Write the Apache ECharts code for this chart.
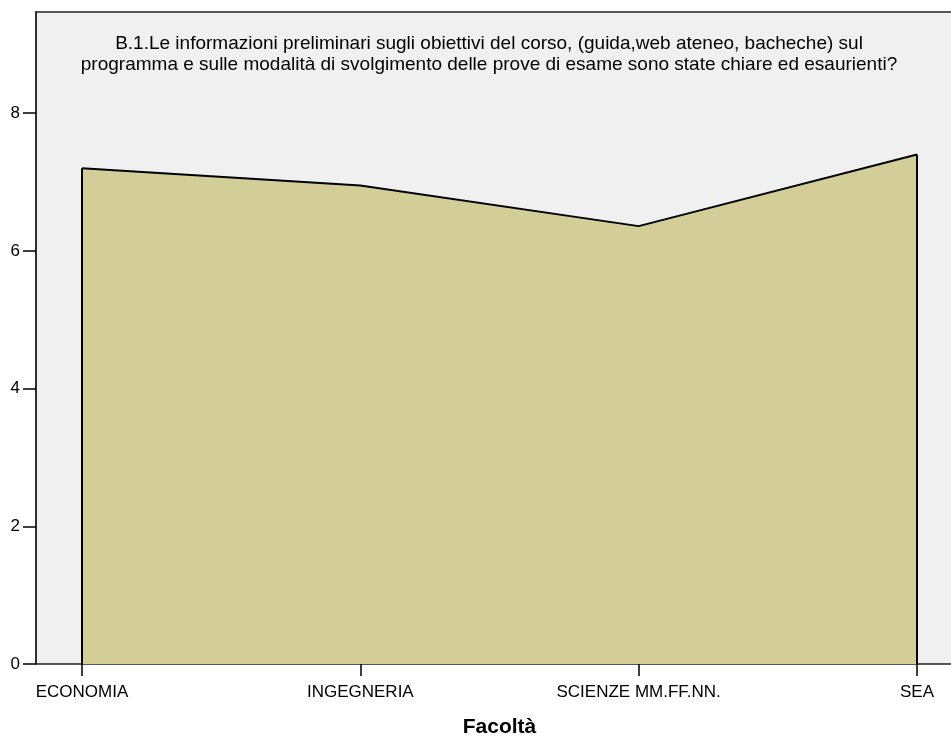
<!DOCTYPE html>
<html>
<head>
<meta charset="utf-8">
<style>
  html, body { margin: 0; padding: 0; background: #fff; }
  #chart { width: 951px; height: 740px; }
</style>
<script src="https://cdn.jsdelivr.net/npm/echarts@6/dist/echarts.min.js"></script>
</head>
<body>
<div id="chart"></div>
<script>
// dati
const categories = ['ECONOMIA', 'INGEGNERIA', 'SCIENZE MM.FF.NN.', 'SEA']
const mediaValues = [7.20, 6.95, 6.36, 7.40]
const yTicks = [0, 2, 4, 6, 8]

const titleLines = [
  'B.1.Le informazioni preliminari sugli obiettivi del corso, (guida,web ateneo, bacheche) sul',
  'programma e sulle modalità di svolgimento delle prove di esame sono state chiare ed esaurienti?'
]

const FONT = 'Arial, "Liberation Sans", sans-serif'
const yMax = 9.47

const chart = echarts.init(document.getElementById('chart'), null, { renderer: 'canvas' })

// bordi verticali dell'area, presi dai dati
const lastIdx = categories.length - 1
const edges = [
  [{ coord: [categories[0], 0] }, { coord: [categories[0], mediaValues[0]] }],
  [{ coord: [categories[lastIdx], 0] }, { coord: [categories[lastIdx], mediaValues[lastIdx]] }]
]

const option = {
  animation: false,
  title: {
    text: titleLines.join('\n'),
    left: 484,
    top: 28,
    textAlign: 'center',
    textStyle: {
      fontFamily: FONT,
      fontSize: 19,
      fontWeight: 'normal',
      color: '#000',
      lineHeight: 21
    }
  },
  grid: [
    {
      // sfondo grigio del riquadro
      left: 36, top: 12, right: -20, bottom: 76,
      outerBoundsMode: 'none',
      containLabel: false,
      show: true,
      backgroundColor: '#f0f0f0',
      borderColor: '#222',
      borderWidth: 1.5
    },
    { left: 82, top: 12, right: 34, bottom: 76, outerBoundsMode: 'none', containLabel: false }
  ],
  xAxis: [
    { gridIndex: 0, type: 'value', show: false, min: 0, max: 1 },
    {
      gridIndex: 1,
      type: 'category',
      data: categories,
      boundaryGap: false,
      axisLine: { show: false },
      axisTick: { show: true, length: 12, lineStyle: { color: '#000', width: 1.5 } },
      axisLabel: {
        margin: 20,
        fontFamily: FONT,
        fontSize: 17,
        color: '#000',
        interval: 0
      },
      name: 'Facoltà',
      nameLocation: 'middle',
      nameGap: 53,
      nameTextStyle: { fontFamily: FONT, fontSize: 21, fontWeight: 'bold', color: '#000' }
    }
  ],
  yAxis: [
    {
      gridIndex: 0,
      type: 'value',
      min: 0,
      max: yMax,
      interval: 2,
      axisLine: { show: true, lineStyle: { color: '#222', width: 1.5 } },
      axisTick: {
        show: true,
        length: 13,
        customValues: yTicks,
        lineStyle: { color: '#000', width: 1.5 }
      },
      axisLabel: {
        margin: 16,
        fontFamily: FONT,
        fontSize: 17,
        color: '#000',
        customValues: yTicks
      },
      splitLine: { show: false }
    },
    { gridIndex: 1, type: 'value', min: 0, max: yMax, show: false }
  ],
  series: [
    {
      name: 'Media',
      type: 'line',
      xAxisIndex: 1,
      yAxisIndex: 1,
      data: mediaValues,
      symbol: 'none',
      lineStyle: { color: '#000', width: 2 },
      areaStyle: { color: '#d3cd98', opacity: 1 },
      markLine: {
        silent: true,
        symbol: 'none',
        label: { show: false },
        lineStyle: { color: '#000', width: 2, type: 'solid' },
        data: edges
      }
    }
  ]
}

chart.setOption(option)
</script>
</body>
</html>
